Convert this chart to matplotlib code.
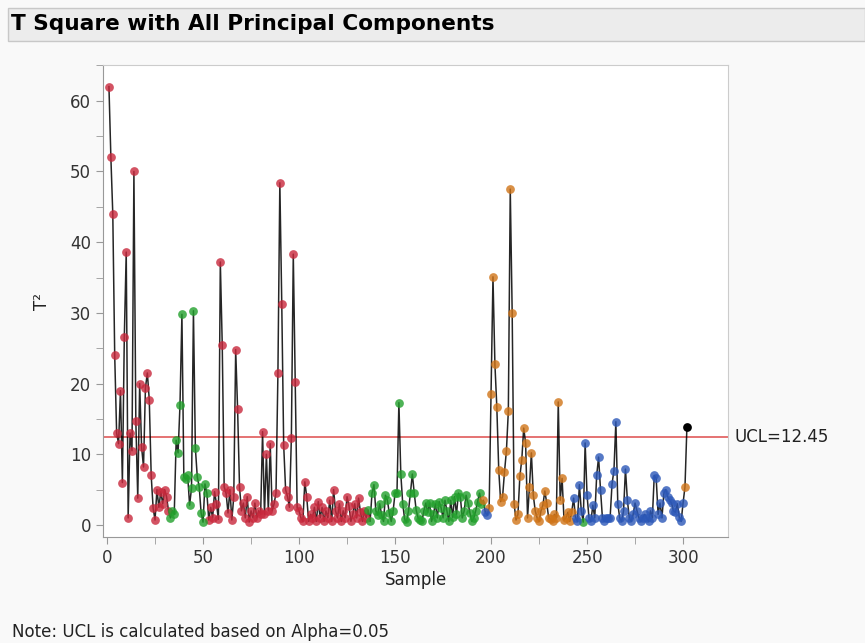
import numpy as np
import matplotlib.pyplot as plt
from matplotlib.patches import Rectangle
from matplotlib.ticker import MultipleLocator

# T square values per sample
t2 = [62, 52, 44, 24, 13, 11.5, 19, 6, 26.6, 38.6,
      1, 13, 10.5, 50, 14.7, 3.8, 20, 11, 8.2, 19.4,
      21.5, 17.7, 7, 2.4, 0.7, 5, 2.5, 4.7, 3, 5,
      4, 2, 1, 2, 1.5, 12, 10.2, 17, 29.8, 6.8,
      6.5, 7, 2.8, 5.2, 30.3, 10.9, 6.8, 5.4, 1.7, 0.4,
      5.8, 4.5, 0.7, 2.5, 1, 4.7, 3, 0.8, 37.2, 25.5,
      5.4, 4.5, 1.7, 5, 0.7, 4, 24.8, 16.4, 5.4, 2,
      3.1, 1, 4, 0.4, 2, 1, 3.1, 1, 2, 1.5,
      13.2, 1.5, 10, 2, 11.5, 2, 3, 4.5, 21.5, 48.4,
      31.3, 11.3, 5, 4, 2.5, 12.3, 38.3, 20.2, 2.5, 2,
      1, 0.5, 6.1, 4, 0.5, 1.5, 1, 2.5, 0.5, 3.3,
      1, 2.5, 0.5, 2, 1, 3.5, 0.5, 5, 2, 1,
      3, 0.5, 2, 1, 4, 2.7, 0.5, 1.5, 3, 1,
      3.8, 1.8, 0.5, 2, 1, 2.1, 0.5, 4.5, 5.7, 2,
      1.4, 3, 1.4, 0.5, 4.2, 3.5, 1.7, 0.5, 2, 4.5,
      4.5, 17.3, 7.2, 3, 0.8, 0.4, 2, 4.5, 7.2, 4.5,
      2.1, 1, 0.7, 0.5, 2, 3.1, 1.8, 3.1, 0.5, 1.5,
      3, 1, 3.3, 2.4, 1, 3.5, 2, 0.5, 3.5, 1.1,
      4, 1.5, 4.5, 4, 1, 2, 4.2, 3.1, 1.7, 0.5,
      1, 2, 3.3, 4.5, 3, 3.5, 1.8, 1.4, 2.4, 18.5,
      35.1, 22.8, 16.7, 7.8, 3.3, 4, 7.5, 10.5, 16.1, 47.5,
      30, 3, 0.7, 1.5, 6.9, 9.2, 13.7, 11.6, 1, 5.4,
      10.2, 4.2, 2, 1, 0.5, 2, 2.8, 4.8, 3.1, 1,
      0.8, 0.5, 1.5, 1, 17.4, 3.5, 6.6, 0.7, 1, 1.8,
      0.5, 1.8, 3.8, 1, 0.5, 5.7, 2, 0.4, 11.6, 4.2,
      1, 0.5, 2.8, 1, 7, 9.6, 5, 1, 0.5, 1,
      1, 1, 5.8, 7.7, 14.6, 3, 1, 0.5, 2, 7.9,
      3.5, 1, 0.5, 1.5, 3.1, 2, 1, 0.5, 1, 1.5,
      1, 0.5, 2, 1, 7, 6.6, 1.5, 3.1, 1, 4.5,
      5, 4, 3.5, 3.1, 2, 1.8, 3, 1.1, 0.5, 3.1,
      5.4, 13.9]

# group of each sample: r=red, g=green, o=orange, b=blue, k=black
grp = ('r' * 32 + 'g' * 20 + 'r' * 83 + 'g' * 60 + 'o' + 'bb' + 'o' * 44
       + 'b' * 5 + 'g' + 'b' * 52 + 'o' + 'k')

ucl = 12.45
sample = np.arange(1, len(t2) + 1)

colors = {'r': '#c8283c', 'g': '#22a02c', 'o': '#d07418', 'b': '#2c58b8', 'k': '#000000'}

fig = plt.figure(figsize=(8.65, 6.43), dpi=100, facecolor='#f9f9f9')

# title bar
fig.patches.append(Rectangle((8 / 865, 1 - 41 / 643), 857 / 865, 33 / 643,
                             transform=fig.transFigure, facecolor='#ececec',
                             edgecolor='#c8c8c8', lw=1))
fig.text(11 / 865, 1 - 24 / 643, 'T Square with All Principal Components',
         fontsize=15.6, weight='bold', va='center', ha='left', color='black',
         family='DejaVu Sans')

ax = fig.add_axes([103 / 865, 1 - 537 / 643, 625 / 865, 472 / 643])
ax.set_facecolor('white')

ax.plot(sample, t2, color='black', lw=1.1, alpha=0.85, zorder=2)
for g in ['r', 'g', 'o', 'b', 'k']:
    idx = [i for i in range(len(t2)) if grp[i] == g]
    ax.plot(sample[idx], np.array(t2)[idx], 'o', ls='', color=colors[g],
            markersize=6.3, alpha=0.8 if g != 'k' else 1, mew=0, zorder=3)

ax.axhline(ucl, color='#e05a5a', lw=1.2, zorder=1)
ax.text(1.01, ucl, 'UCL=%.2f' % ucl, transform=ax.get_yaxis_transform(),
        va='center', ha='left', fontsize=12, color='#222222')

ax.set_xlim(-2.1, 323.4)
ax.set_ylim(-1.7, 65.06)
ax.xaxis.set_major_locator(MultipleLocator(50))
ax.xaxis.set_minor_locator(MultipleLocator(25))
ax.yaxis.set_major_locator(MultipleLocator(10))
ax.yaxis.set_minor_locator(MultipleLocator(5))
ax.tick_params(which='both', direction='out', color='#999999', labelsize=12,
               labelcolor='#333333', length=5)
for s in ['top', 'right']:
    ax.spines[s].set_color('#cccccc')
for s in ['left', 'bottom']:
    ax.spines[s].set_color('#999999')

ax.set_xlabel('Sample', fontsize=12, color='#222222', labelpad=3)
ax.set_ylabel('T²', fontsize=12, color='#222222', labelpad=14)

fig.text(12 / 865, 1 - 632 / 643, 'Note: UCL is calculated based on Alpha=0.05',
         fontsize=12, va='center', ha='left', color='#222222')

plt.savefig('out.png', dpi=100, facecolor=fig.get_facecolor())
